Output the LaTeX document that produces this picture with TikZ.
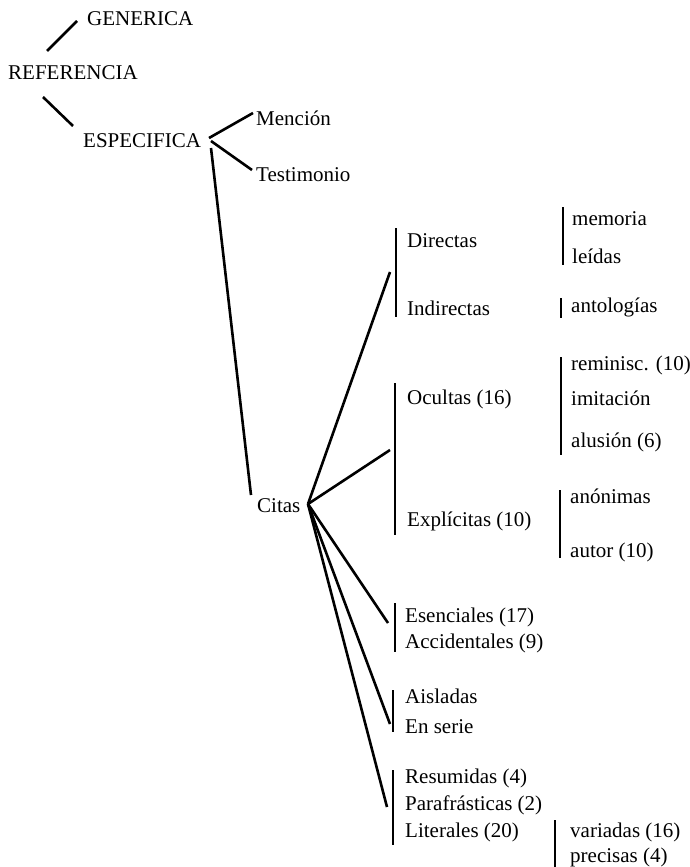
\documentclass[tikz,border=0pt]{standalone}
\usepackage{fontspec}
\setmainfont{Liberation Serif}
\begin{document}
\begin{tikzpicture}[x=1pt,y=-1pt,
  lbl/.style={anchor=base west,inner sep=0pt,font=\fontsize{21}{25}\selectfont},
  link/.style={line width=2.6pt},
  bar/.style={line width=2.8pt}]
\useasboundingbox (0,0) rectangle (690,867);
% text nodes
\node[lbl] (gen) at (87,26) {GENERICA};
\node[lbl] (ref) at (8,80) {REFERENCIA};
\node[lbl] (esp) at (83,147) {ESPECIFICA};
\node[lbl] (men) at (256,125) {Mención};
\node[lbl] (tes) at (256,181) {Testimonio};
\node[lbl] (cit) at (257,512) {Citas};
\node[lbl] (dir) at (407,247) {Directas};
\node[lbl] (ind) at (407,315) {Indirectas};
\node[lbl] (mem) at (572,225) {memoria};
\node[lbl] (lei) at (572,263) {leídas};
\node[lbl] (ant) at (571,312) {antologías};
\node[lbl] (ocu) at (407,404) {Ocultas (16)};
\node[lbl] (exp) at (407,526) {Explícitas (10)};
\node[lbl] (rem) at (571,370) {reminisc. (10)};
\node[lbl] (imi) at (571,405) {imitación};
\node[lbl] (alu) at (571,447) {alusión (6)};
\node[lbl] (ano) at (570,503) {anónimas};
\node[lbl] (aut) at (570,557) {autor (10)};
\node[lbl] (ese) at (405,622) {Esenciales (17)};
\node[lbl] (acc) at (405,648) {Accidentales (9)};
\node[lbl] (ais) at (405,703) {Aisladas};
\node[lbl] (ens) at (405,733) {En serie};
\node[lbl] (res) at (405,783) {Resumidas (4)};
\node[lbl] (par) at (405,810) {Parafrásticas (2)};
\node[lbl] (lit) at (405,837) {Literales (20)};
\node[lbl] (var) at (570,837) {variadas (16)};
\node[lbl] (pre) at (570,862) {precisas (4)};
% connector end points
\coordinate (refup) at (47,51);
\coordinate (genl) at (77,21);
\coordinate (refdn) at (43,97);
\coordinate (espl) at (73,126);
\coordinate (espv) at (209,138);
\coordinate (espv2) at (211,141);
\coordinate (espv3) at (211,148);
\coordinate (menl) at (253,113);
\coordinate (tesl) at (252,170);
\coordinate (citl) at (251,495);
\coordinate (citv) at (308,504);
\coordinate (dirb) at (390,272);
\coordinate (ocub) at (390,450);
\coordinate (eseb) at (388,623);
\coordinate (aisb) at (390,724);
\coordinate (resb) at (387,807);
% connectors
\draw[link] (refup) -- (genl);
\draw[link] (refdn) -- (espl);
\draw[link] (espv) -- (menl);
\draw[link] (espv2) -- (tesl);
\draw[link] (espv3) -- (citl);
\draw[link] (citv) -- (dirb);
\draw[link] (citv) -- (ocub);
\draw[link] (citv) -- (eseb);
\draw[link] (citv) -- (aisb);
\draw[link] (citv) -- (resb);
% bars
\draw[bar] (396,228) -- (396,317);
\draw[bar] (563,207) -- (563,265);
\draw[bar] (561,298) -- (561,318);
\draw[bar] (395,383) -- (395,535);
\draw[bar] (561,357) -- (561,455);
\draw[bar] (560,490) -- (560,558);
\draw[bar] (395,603) -- (395,652);
\draw[bar] (393,690) -- (393,732);
\draw[bar] (393,770) -- (393,845);
\draw[bar] (555,820) -- (555,867);
\end{tikzpicture}
\end{document}
